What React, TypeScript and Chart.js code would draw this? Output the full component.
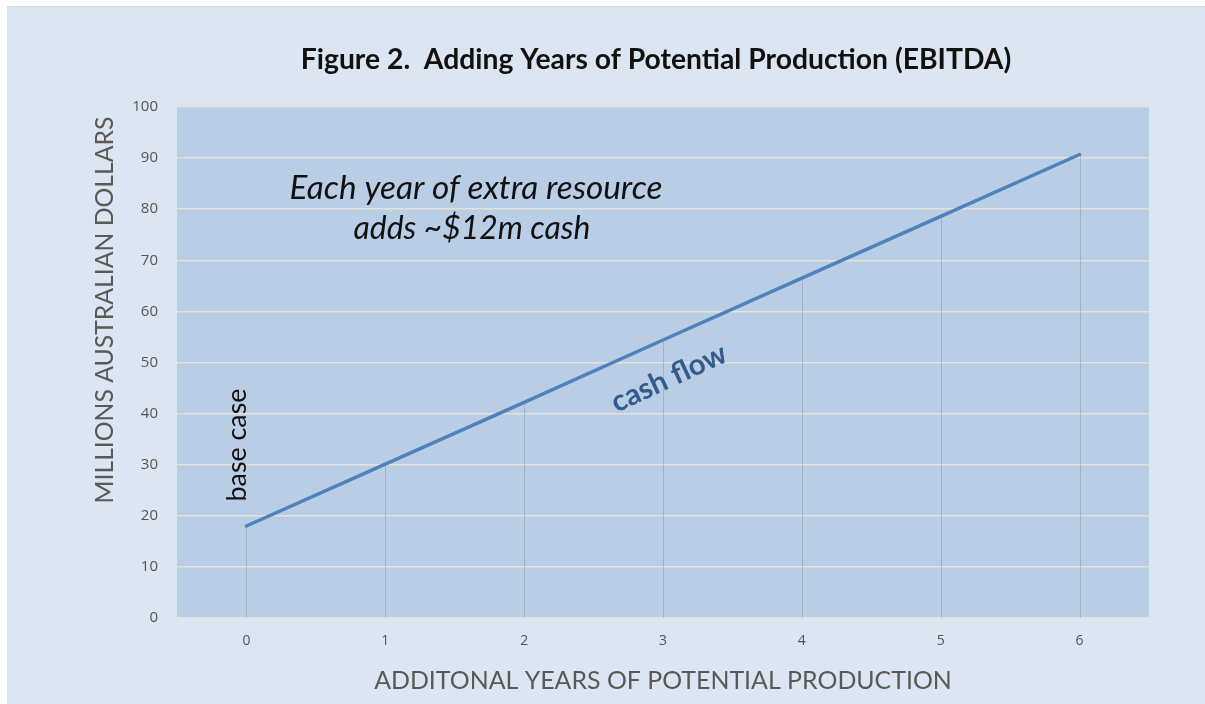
import React, { useEffect, useRef } from "react";
import { Chart, registerables } from "chart.js";

Chart.register(...registerables);

const categories = ["0", "1", "2", "3", "4", "5", "6"];
const cashFlow = [18, 30.1, 42.2, 54.4, 66.5, 78.6, 90.7];
const yTicks = [0, 10, 20, 30, 40, 50, 60, 70, 80, 90, 100];

const TITLE = "Figure 2.  Adding Years of Potential Production (EBITDA)";
const Y_TITLE = "MILLIONS AUSTRALIAN DOLLARS";
const X_TITLE = "ADDITONAL YEARS OF POTENTIAL PRODUCTION";
const NOTE1 = "Each year of extra resource";
const NOTE2 = "adds ~$12m cash";
const BASE = "base case";
const SERIES = "cash flow";

const FONT = "Lato, 'Open Sans', sans-serif";
const TICK_FONT = "'Open Sans', sans-serif";
const W = 1198;
const H = 698;

function fitFont(ctx: CanvasRenderingContext2D, text: string, style: string, width: number, start: number) {
  let size = start;
  ctx.font = `${style} ${size}px ${FONT}`;
  const w = ctx.measureText(text).width;
  size = (start * width) / w;
  ctx.font = `${style} ${size}px ${FONT}`;
}

const decor = {
  id: "decor",
  beforeDraw(chart: any) {
    const { ctx, chartArea } = chart;
    ctx.save();
    ctx.fillStyle = "#b9cde5";
    ctx.fillRect(chartArea.left, chartArea.top, chartArea.right - chartArea.left, chartArea.bottom - chartArea.top);
    ctx.restore();
  },
  beforeDatasetsDraw(chart: any) {
    const { ctx, chartArea } = chart;
    const meta = chart.getDatasetMeta(0);
    ctx.save();
    ctx.strokeStyle = "rgba(140,150,165,0.5)";
    ctx.lineWidth = 1;
    meta.data.forEach((p: any) => {
      const x = Math.round(p.x) + 0.5;
      ctx.beginPath();
      ctx.moveTo(x, p.y);
      ctx.lineTo(x, chartArea.bottom);
      ctx.stroke();
    });
    ctx.restore();
  },
  afterDraw(chart: any) {
    const { ctx } = chart;
    ctx.save();
    ctx.textAlign = "center";
    ctx.textBaseline = "middle";

    ctx.fillStyle = "#111111";
    fitFont(ctx, TITLE, "bold", 711, 24);
    ctx.fillText(TITLE, 649, 53);

    ctx.fillStyle = "#595959";
    ctx.save();
    ctx.translate(98, 303);
    ctx.rotate(-Math.PI / 2);
    fitFont(ctx, Y_TITLE, "normal", 387, 24);
    ctx.fillText(Y_TITLE, 0, 0);
    ctx.restore();

    fitFont(ctx, X_TITLE, "normal", 578, 24);
    ctx.fillText(X_TITLE, 656, 674);

    ctx.fillStyle = "#111111";
    fitFont(ctx, NOTE1, "italic", 373, 26);
    ctx.fillText(NOTE1, 469, 181);
    fitFont(ctx, NOTE2, "italic", 237, 26);
    ctx.fillText(NOTE2, 465, 222);

    ctx.save();
    ctx.translate(230, 438);
    ctx.rotate(-Math.PI / 2);
    fitFont(ctx, BASE, "normal", 113, 24);
    ctx.fillText(BASE, 0, 0);
    ctx.restore();

    ctx.save();
    ctx.fillStyle = "#335b8e";
    ctx.translate(662, 371);
    ctx.rotate((-25 * Math.PI) / 180);
    fitFont(ctx, SERIES, "bold", 124, 26);
    ctx.fillText(SERIES, 0, 0);
    ctx.restore();

    ctx.restore();
  },
};

export default function App() {
  const ref = useRef<HTMLCanvasElement>(null);
  useEffect(() => {
    document.body.style.margin = "0";
    document.body.style.background = "#ffffff";
    const chart = new Chart(ref.current!, {
      type: "line",
      data: {
        labels: categories,
        datasets: [
          {
            label: SERIES,
            data: cashFlow,
            borderColor: "#4f81bd",
            borderWidth: 3.5,
            pointRadius: 0,
            tension: 0,
            borderCapStyle: "round",
          },
        ],
      },
      options: {
        animation: false,
        responsive: false,
        maintainAspectRatio: false,
        layout: { padding: { left: 0, top: 100, right: W - 1142, bottom: 0 } },
        plugins: { legend: { display: false }, tooltip: { enabled: false }, title: { display: false } },
        scales: {
          x: {
            offset: true,
            grid: { display: false, drawTicks: false },
            border: { display: false },
            ticks: { color: "#555555", font: { family: TICK_FONT, size: 14 }, padding: 15 },
            afterFit: (s: any) => {
              s.height = H - 612;
            },
          },
          y: {
            min: 0,
            max: 100,
            afterBuildTicks: (s: any) => {
              s.ticks = yTicks.map((v) => ({ value: v }));
            },
            grid: { color: "#e6e2da", lineWidth: 1.5, drawTicks: false },
            border: { display: false },
            ticks: { color: "#555555", font: { family: TICK_FONT, size: 15 }, padding: 19 },
            afterFit: (s: any) => {
              s.width = 170;
            },
          },
        },
      },
      plugins: [decor],
    });
    return () => chart.destroy();
  }, []);
  return (
    <div style={{ marginTop: 6, marginLeft: 7, width: W, height: H, background: "#dce6f2", borderTop: "1px solid #d6dbe2" }}>
      <canvas ref={ref} width={W} height={H - 1} style={{ display: "block" }} />
    </div>
  );
}
